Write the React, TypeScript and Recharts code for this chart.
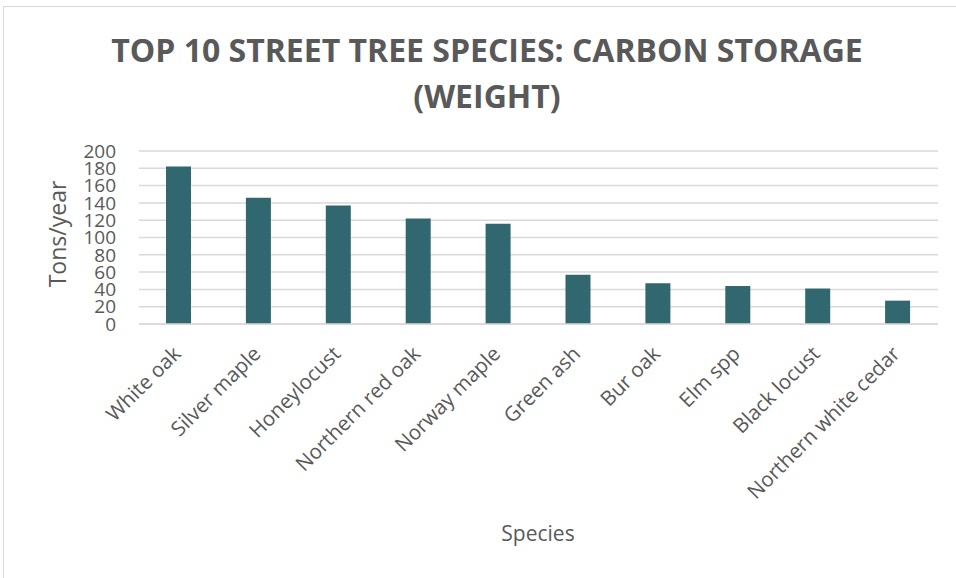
import React from 'react';
import { BarChart, Bar, XAxis, YAxis, CartesianGrid } from 'recharts';

const species = [
    'White oak',
    'Silver maple',
    'Honeylocust',
    'Northern red oak',
    'Norway maple',
    'Green ash',
    'Bur oak',
    'Elm spp',
    'Black locust',
    'Northern white cedar',
];
const tonsPerYear = [182, 146, 137, 122, 116, 57, 47, 44, 41, 27];
const yTicks = [0, 20, 40, 60, 80, 100, 120, 140, 160, 180, 200];

const data = species.map((name, i) => ({ name, value: tonsPerYear[i] }));

const TEXT = '#595959';
const FONT = '"Open Sans", sans-serif';

// rotated category labels, end of text sits just under the bar
function SpeciesTick(props: any) {
    const { x, y, payload } = props;
    return (
        <g transform={`translate(${x - 2},${y + 18}) rotate(-45)`}>
            <text x={0} y={0} dy="0.35em" textAnchor="end" fill={TEXT} fontSize={20.5} fontFamily={FONT}>
                {payload.value}
            </text>
        </g>
    );
}

export default function App() {
    return (
        <div style={{ position: 'absolute', left: 0, top: 0, width: 956, height: 578, overflow: 'hidden', background: '#fff' }}>
            <div
                style={{
                    position: 'absolute',
                    left: 3,
                    top: 6,
                    width: 980,
                    height: 600,
                    border: '1.5px solid #d9d9d9',
                }}
            />
            <div
                style={{
                    position: 'absolute',
                    left: 0,
                    top: 27,
                    width: 974,
                    textAlign: 'center',
                    fontFamily: FONT,
                    fontWeight: 700,
                    fontSize: 32,
                    lineHeight: '46px',
                    color: TEXT,
                }}
            >
                TOP 10 STREET TREE SPECIES: CARBON STORAGE
                <br />
                (WEIGHT)
            </div>
            <div style={{ position: 'absolute', left: 0, top: 0 }}>
                <BarChart
                    width={956}
                    height={578}
                    data={data}
                    margin={{ top: 151, right: 18, bottom: 0, left: 0 }}
                    barCategoryGap={0}
                >
                    <CartesianGrid vertical={false} stroke="#d9d9d9" strokeWidth={1.5} />
                    <XAxis
                        dataKey="name"
                        interval={0}
                        height={254}
                        tick={<SpeciesTick />}
                        tickLine={false}
                        axisLine={{ stroke: '#d9d9d9', strokeWidth: 1.5 }}
                        label={{
                            content: () => (
                                <text x={538} y={533} textAnchor="middle" dominantBaseline="central" fill={TEXT} fontSize={21} fontFamily={FONT}>
                                    Species
                                </text>
                            ),
                        }}
                    />
                    <YAxis
                        width={139}
                        domain={[0, 200]}
                        ticks={yTicks}
                        interval={0}
                        tickSize={0}
                        tickMargin={23}
                        tickLine={false}
                        axisLine={false}
                        tick={{ fill: TEXT, fontSize: 19, fontFamily: FONT }}
                        label={{
                            content: () => (
                                <text
                                    x={57}
                                    y={234}
                                    transform="rotate(-90 57 234)"
                                    textAnchor="middle"
                                    dominantBaseline="central"
                                    fill={TEXT}
                                    fontSize={23}
                                    fontFamily={FONT}
                                >
                                    Tons/year
                                </text>
                            ),
                        }}
                    />
                    <Bar dataKey="value" fill="#31676f" barSize={25} isAnimationActive={false} />
                </BarChart>
            </div>
        </div>
    );
}
